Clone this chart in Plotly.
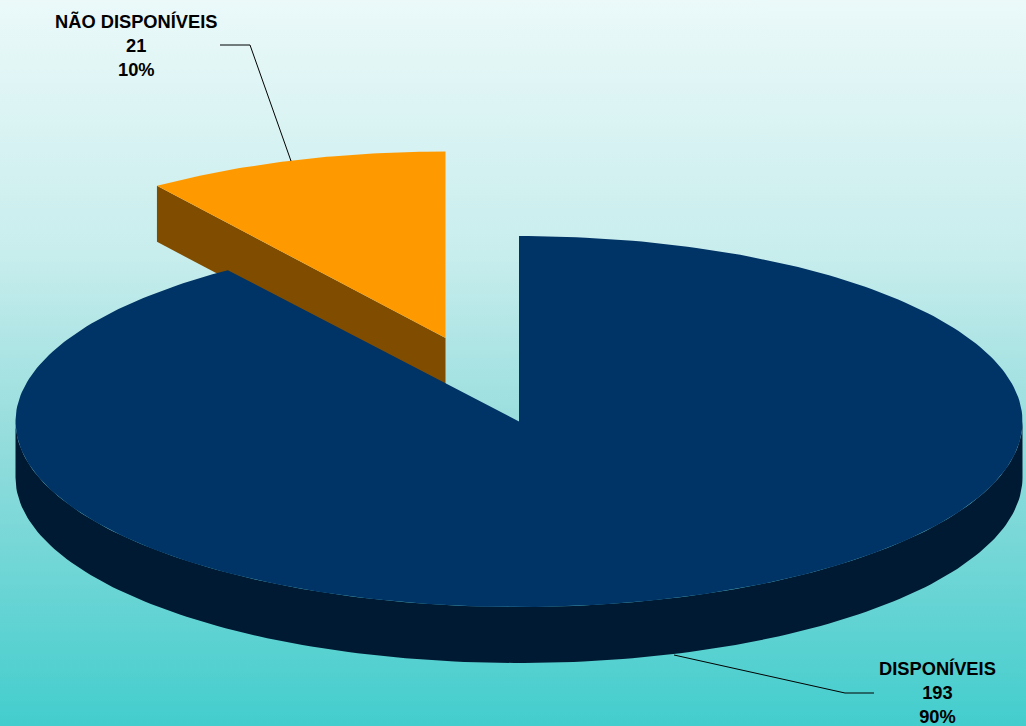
import numpy as np
import plotly.graph_objects as go

# Chart data
categories = ["DISPONÍVEIS", "NÃO DISPONÍVEIS"]
values = [193, 21]

# Colours: top face and side wall of each slice
top_colors = ["#003366", "#FF9900"]
wall_colors = ["#001A33", "#804D00"]
bg_stops = [[0.0, "#EBF9F9"], [0.35, "#C8EDED"], [0.6, "#96DDDD"], [1.0, "#43CDCD"]]

# Tilted-disc geometry in page pixels
WIDTH, HEIGHT = 1026, 726
CENTER = (519.0, 421.5)
RX, RY = 503.5, 185.5
DEPTH = 56.0
EXPLODE = (-73.5, -83.5)
# The exploded slice sits further back, so its radii are a touch different
SMALL_RX, SMALL_RY = 499.0, 186.5

total = sum(values)
main_sweep = 2 * np.pi * values[0] / total


def rim(theta, origin, rx=RX, ry=RY):
    """Rim points; theta runs clockwise from twelve o'clock."""
    return origin[0] + rx * np.sin(theta), origin[1] - ry * np.cos(theta)


def polygon(x, y, color):
    return go.Scatter(x=x, y=y, mode="lines", fill="toself", fillcolor=color,
                      line=dict(width=0, color=color), hoverinfo="skip")


fig = go.Figure()

# Page background as a vertical gradient
fig.add_trace(go.Scatter(
    x=[0, WIDTH, WIDTH, 0, 0], y=[0, 0, HEIGHT, HEIGHT, 0], mode="lines",
    line=dict(width=0), hoverinfo="skip", fill="toself",
    fillgradient=dict(type="vertical", colorscale=bg_stops, start=0, stop=HEIGHT),
))

# Exploded slice: the radial wall sits behind the large slice
small_origin = (CENTER[0] + EXPLODE[0], CENTER[1] + EXPLODE[1])
t_small = np.linspace(main_sweep, 2 * np.pi, 60)
sx, sy = rim(t_small, small_origin, SMALL_RX, SMALL_RY)
fig.add_trace(polygon(
    [small_origin[0], sx[0], sx[0], small_origin[0], small_origin[0]],
    [small_origin[1], sy[0], sy[0] + DEPTH, small_origin[1] + DEPTH, small_origin[1]],
    wall_colors[1]))
fig.add_trace(polygon(
    np.r_[small_origin[0], sx, small_origin[0]],
    np.r_[small_origin[1], sy, small_origin[1]],
    top_colors[1]))

# Large slice: front wall, then top face
t_front = np.linspace(np.pi / 2, 3 * np.pi / 2, 160)
fx, fy = rim(t_front, CENTER)
fig.add_trace(polygon(np.r_[fx, fx[::-1], fx[0]],
                      np.r_[fy, fy[::-1] + DEPTH, fy[0]],
                      wall_colors[0]))
t_main = np.linspace(0, main_sweep, 300)
mx, my = rim(t_main, CENTER)
fig.add_trace(polygon(np.r_[CENTER[0], mx, CENTER[0]],
                      np.r_[CENTER[1], my, CENTER[1]],
                      top_colors[0]))

# Leader lines
fig.add_trace(go.Scatter(x=[220, 250, 291], y=[45, 45, 161], mode="lines",
                         line=dict(color="#000000", width=1), hoverinfo="skip"))
fig.add_trace(go.Scatter(x=[674, 845, 874], y=[655, 693, 693], mode="lines",
                         line=dict(color="#000000", width=1), hoverinfo="skip"))

# Data labels: name, count, share
label_pos = [(937.5, 692.5), (136.5, 45.5)]
for name, val, (lx, ly) in zip(categories, values, label_pos):
    fig.add_annotation(
        x=lx, y=ly, xref="x", yref="y", showarrow=False, align="center",
        text=f"<b>{name}<br>{val}<br>{round(100 * val / total)}%</b>",
        font=dict(family="Liberation Sans", size=18.3, color="#000000"),
    )

fig.update_layout(
    width=WIDTH, height=HEIGHT, margin=dict(l=0, r=0, t=0, b=0),
    showlegend=False, paper_bgcolor="#FFFFFF", plot_bgcolor="rgba(0,0,0,0)",
    xaxis=dict(range=[0, WIDTH], visible=False, fixedrange=True),
    yaxis=dict(range=[HEIGHT, 0], visible=False, fixedrange=True),
)

fig.write_html("out.html", config=dict(displayModeBar=False))
